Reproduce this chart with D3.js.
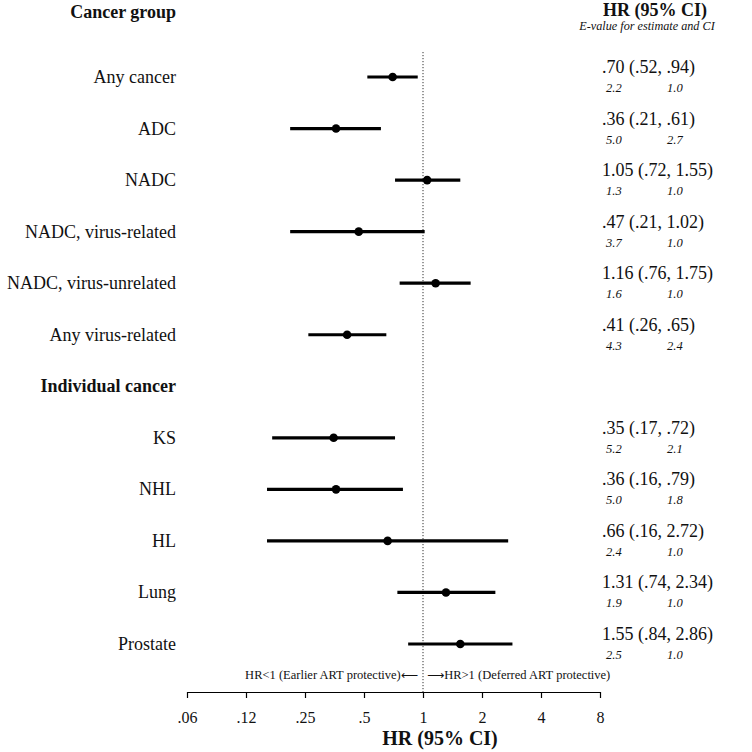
<!DOCTYPE html>
<html><head><meta charset="utf-8">
<script src="https://cdn.jsdelivr.net/npm/d3@7"></script>
<style>body{margin:0;background:#fff}svg{display:block}text{font-family:"Liberation Serif","Times New Roman",serif;fill:#111}</style>
</head><body><svg id="c" width="752" height="752"></svg>
<script>
const labels = ["Any cancer","ADC","NADC","NADC, virus-related","NADC, virus-unrelated","Any virus-related","Individual cancer","KS","NHL","HL","Lung","Prostate"];
const isHeader = [false,false,false,false,false,false,true,false,false,false,false,false];
const hr    = [0.70,0.36,1.05,0.47,1.16,0.41,null,0.35,0.36,0.66,1.31,1.55];
const lo    = [0.52,0.21,0.72,0.21,0.76,0.26,null,0.17,0.16,0.16,0.74,0.84];
const hi    = [0.94,0.61,1.55,1.02,1.75,0.65,null,0.72,0.79,2.72,2.34,2.86];
const hrText = [".70 (.52, .94)",".36 (.21, .61)","1.05 (.72, 1.55)",".47 (.21, 1.02)","1.16 (.76, 1.75)",".41 (.26, .65)","",".35 (.17, .72)",".36 (.16, .79)",".66 (.16, 2.72)","1.31 (.74, 2.34)","1.55 (.84, 2.86)"];
const eEst = ["2.2","5.0","1.3","3.7","1.6","4.3","","5.2","5.0","2.4","1.9","2.5"];
const eCI  = ["1.0","2.7","1.0","1.0","1.0","2.4","","2.1","1.8","1.0","1.0","1.0"];
const tickVals = [0.0625,0.125,0.25,0.5,1,2,4,8];
const tickLabels = [".06",".12",".25",".5","1","2","4","8"];

const svg = d3.select("#c");
const x = d3.scaleLog().base(2).domain([0.0625,8]).range([187,600]);
const y = d3.scaleLinear().domain([0,11]).range([77,644]);

// reference line
svg.append("line").attr("x1",x(1)).attr("x2",x(1)).attr("y1",52).attr("y2",692)
  .attr("stroke","#333").attr("stroke-width",1).attr("stroke-dasharray","1.2,1.8");

// headers
svg.append("text").attr("x",176).attr("y",18).attr("text-anchor","end")
  .attr("font-weight","bold").attr("font-size",18).text("Cancer group");
svg.append("text").attr("x",655).attr("y",16).attr("text-anchor","middle")
  .attr("font-weight","bold").attr("font-size",18).text("HR (95% CI)");
svg.append("text").attr("x",647).attr("y",30).attr("text-anchor","middle")
  .attr("font-style","italic").attr("font-size",12.2).text("E-value for estimate and CI");

const rows = labels.map((l,i)=>({l,i,h:isHeader[i],hr:hr[i],lo:lo[i],hi:hi[i],t:hrText[i],e1:eEst[i],e2:eCI[i]}));

svg.selectAll("text.lab").data(rows).join("text").attr("class","lab")
  .attr("x",176).attr("y",d=>y(d.i)+6).attr("text-anchor","end")
  .attr("font-size",18).attr("font-weight",d=>d.h?"bold":"normal").text(d=>d.l);

const dr = rows.filter(d=>!d.h);
svg.selectAll("line.ci").data(dr).join("line").attr("class","ci")
  .attr("x1",d=>x(d.lo)).attr("x2",d=>x(d.hi)).attr("y1",d=>y(d.i)).attr("y2",d=>y(d.i))
  .attr("stroke","#000").attr("stroke-width",3.2);
svg.selectAll("circle.pt").data(dr).join("circle").attr("class","pt")
  .attr("cx",d=>x(d.hr)).attr("cy",d=>y(d.i)).attr("r",4.3).attr("fill","#000");

svg.selectAll("text.hrt").data(dr).join("text").attr("class","hrt")
  .attr("x",602).attr("y",d=>y(d.i)-4).attr("font-size",18).text(d=>d.t);
svg.selectAll("text.e1").data(dr).join("text").attr("class","e1")
  .attr("x",606).attr("y",d=>y(d.i)+15).attr("font-size",12.5).attr("font-style","italic").attr("fill","#333").text(d=>d.e1);
svg.selectAll("text.e2").data(dr).join("text").attr("class","e2")
  .attr("x",667).attr("y",d=>y(d.i)+15).attr("font-size",12.5).attr("font-style","italic").attr("fill","#333").text(d=>d.e2);

// arrow annotations
const tl = svg.append("text").attr("x",x(1)-5).attr("y",679).attr("text-anchor","end").attr("font-size",12.5);
tl.append("tspan").text("HR<1 (Earlier ART protective)");
tl.append("tspan").attr("font-family","DejaVu Sans").attr("font-size",12).text("\u27F5");
const tr = svg.append("text").attr("x",x(1)+4).attr("y",679).attr("text-anchor","start").attr("font-size",12.5);
tr.append("tspan").attr("font-family","DejaVu Sans").attr("font-size",12).text("\u27F6");
tr.append("tspan").text("HR>1 (Deferred ART protective)");

// axis
const ax = svg.append("g").attr("transform","translate(0,692)")
  .call(d3.axisBottom(x).tickValues(tickVals).tickFormat((d,i)=>tickLabels[i]).tickSize(6).tickSizeOuter(0).tickPadding(14));
ax.select(".domain").attr("stroke","#000").attr("stroke-width",1.2);
ax.selectAll(".tick line").attr("stroke","#000").attr("stroke-width",1.2);
ax.selectAll(".tick text").attr("font-family","'Liberation Serif',serif").attr("font-size",16).attr("fill","#111");

svg.append("text").attr("x",440).attr("y",745).attr("text-anchor","middle")
  .attr("font-weight","bold").attr("font-size",20).text("HR (95% CI)");
</script></body></html>
